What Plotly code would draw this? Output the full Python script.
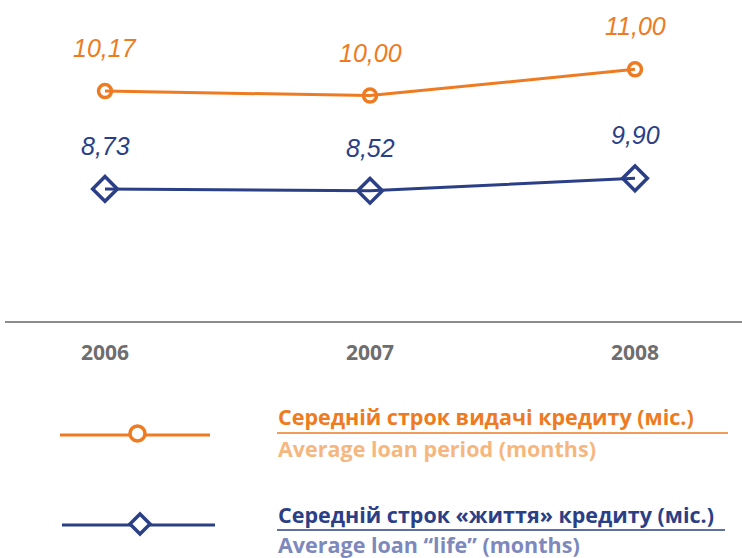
import plotly.graph_objects as go

years = ["2006", "2007", "2008"]
loan_period = [10.17, 10.00, 11.00]
loan_life = [8.73, 8.52, 9.90]

title_period_ua = "Середній строк видачі кредиту (міс.)"
title_period_en = "Average loan period (months)"
title_life_ua = "Середній строк «життя» кредиту (міс.)"
title_life_en = "Average loan “life” (months)"

ORANGE = "#EE7B22"
ORANGE_L = "#F6B77F"
BLUE = "#2B3F87"
BLUE_L = "#7D88BC"
GRAY = "#6E6E6E"

W, H = 742, 558
xs = [0, 1, 2]

fig = go.Figure()
fig.add_trace(go.Scatter(
    x=xs, y=loan_period, mode="lines+markers", yaxis="y",
    line=dict(color=ORANGE, width=3),
    marker=dict(symbol="circle-open", size=13, color=ORANGE, line=dict(width=3.5)),
    hoverinfo="skip", showlegend=False))
fig.add_trace(go.Scatter(
    x=xs, y=loan_life, mode="lines+markers", yaxis="y2",
    line=dict(color=BLUE, width=3),
    marker=dict(symbol="diamond-open", size=19, color=BLUE, line=dict(width=3.5)),
    hoverinfo="skip", showlegend=False))

def fmt(v):
    return f"{v:.2f}".replace(".", ",")

annotations = []
for x, v in zip(xs, loan_period):
    annotations.append(dict(x=x, y=v, xref="x", yref="y", text=fmt(v), showarrow=False,
                            yshift=43, font=dict(family="Liberation Sans", size=25, color=ORANGE, style="italic")))
for x, v in zip(xs, loan_life):
    annotations.append(dict(x=x, y=v, xref="x", yref="y2", text=fmt(v), showarrow=False,
                            yshift=43, font=dict(family="Liberation Sans", size=25, color=BLUE, style="italic")))

def py(p):
    return 1 - p / H

def px(p):
    return p / W

txt_font = "Open Sans"
legend_texts = [
    (title_period_ua, 416, ORANGE),
    (title_period_en, 448, ORANGE_L),
    (title_life_ua, 514, BLUE),
    (title_life_en, 544, BLUE_L),
]
for t, y, c in legend_texts:
    annotations.append(dict(x=px(276), y=py(y), xref="paper", yref="paper", text=f"<b>{t}</b>",
                            showarrow=False, xanchor="left", yanchor="middle",
                            font=dict(family=txt_font, size=21.5, color=c)))

shapes = [
    dict(type="line", xref="paper", yref="paper", x0=px(277), x1=px(728), y0=py(433), y1=py(433),
         line=dict(color=ORANGE, width=1.5)),
    dict(type="line", xref="paper", yref="paper", x0=px(277), x1=px(725), y0=py(530), y1=py(530),
         line=dict(color=BLUE, width=1.5)),
    # legend glyphs
    dict(type="line", xref="paper", yref="paper", x0=px(60), x1=px(210), y0=py(435), y1=py(435),
         line=dict(color=ORANGE, width=3)),
    dict(type="circle", xref="paper", yref="paper", x0=px(130), x1=px(145), y0=py(426), y1=py(441),
         line=dict(color=ORANGE, width=3.5), fillcolor="white"),
    dict(type="line", xref="paper", yref="paper", x0=px(62), x1=px(215), y0=py(525), y1=py(525),
         line=dict(color=BLUE, width=3)),
    dict(type="path", xref="paper", yref="paper",
         path=f"M {px(130)},{py(524)} L {px(140)},{py(514)} L {px(150)},{py(524)} L {px(140)},{py(534)} Z",
         line=dict(color=BLUE, width=3.5), fillcolor="white"),
]

fig.update_layout(
    width=W, height=H,
    margin=dict(l=0, r=0, t=0, b=0),
    paper_bgcolor="white", plot_bgcolor="white",
    xaxis=dict(domain=[5 / W, 1], range=[-100 / 265, 2 + 107 / 265],
               tickvals=xs, ticktext=years, showgrid=False, zeroline=False,
               showline=True, linecolor="#8C8C8C", linewidth=2, ticks="",
               ticklabelstandoff=12,
               tickfont=dict(family=txt_font, size=21, color=GRAY, weight="bold")),
    yaxis=dict(domain=[1 - 321 / H, 1], range=[1.395, 13.647], visible=False),
    yaxis2=dict(domain=[1 - 321 / H, 1], range=[-5.9, 29.65], visible=False, overlaying="y"),
    annotations=annotations,
    shapes=shapes,
)

fig.write_html("out.html", config={"displayModeBar": False},
               post_script="document.body.style.margin='0';document.body.style.overflow='hidden';")
